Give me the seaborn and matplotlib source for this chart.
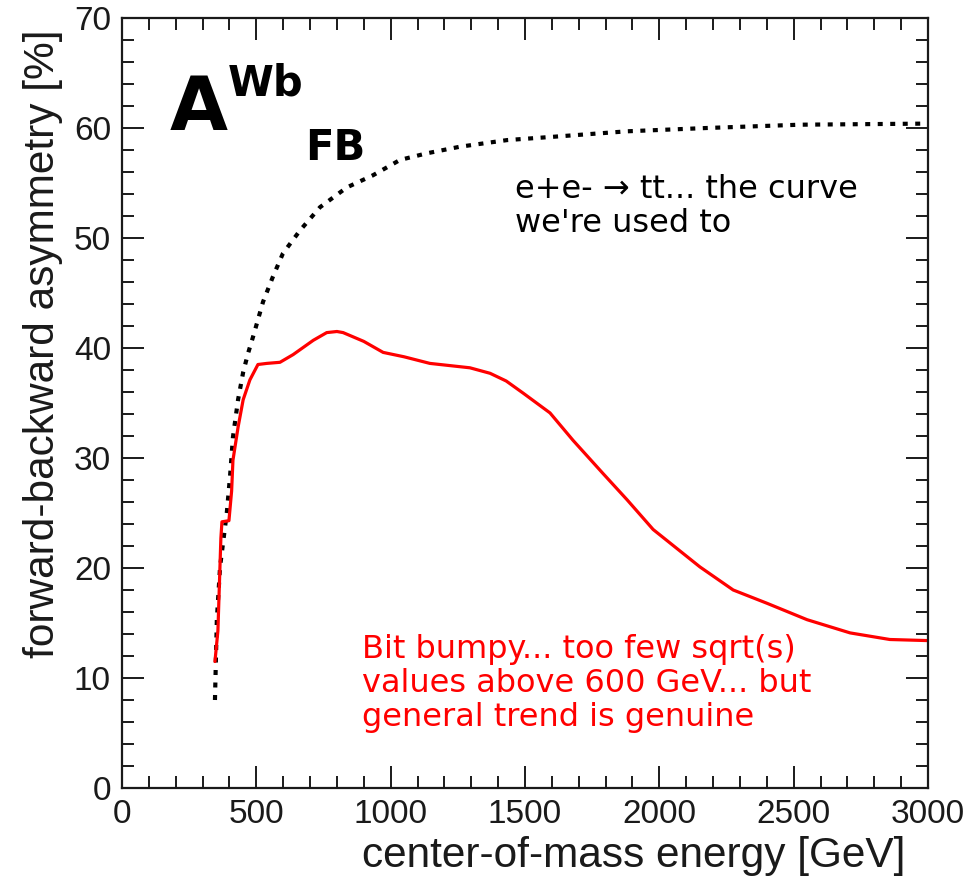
import matplotlib
matplotlib.use("Agg")
import matplotlib.pyplot as plt
from matplotlib.ticker import MultipleLocator
import seaborn as sns
import pandas as pd

# --- data ---
ttbar_E = [346, 353, 365, 390, 402, 413, 432, 451, 469, 490, 525, 562, 599, 663,
           737, 837, 934, 1035, 1135, 1258, 1433, 1604, 1880, 2177, 2523, 3000]
ttbar_A = [8.0, 15.3, 20.1, 25.0, 28.3, 31.9, 35.3, 37.8, 39.5, 41.2, 44.2, 46.5,
           48.6, 50.7, 52.8, 54.6, 55.7, 57.1, 57.7, 58.3, 58.9, 59.2, 59.7, 60.0,
           60.3, 60.4]

wb_E = [346, 357, 368, 372, 398, 408, 413, 432, 451, 476, 506, 539, 588, 637, 712,
        762, 800, 823, 900, 972, 1050, 1146, 1295, 1370, 1430, 1493, 1593, 1679,
        1790, 1880, 1977, 2151, 2275, 2400, 2550, 2710, 2858, 3000]
wb_A = [11.5, 14.3, 22.7, 24.2, 24.3, 27.0, 29.8, 32.8, 35.3, 37.1, 38.5, 38.6,
        38.7, 39.4, 40.7, 41.4, 41.5, 41.4, 40.6, 39.6, 39.2, 38.6, 38.2, 37.7,
        37.0, 35.9, 34.1, 31.6, 28.6, 26.2, 23.5, 20.1, 18.0, 16.8, 15.3, 14.1,
        13.5, 13.4]

x_ticks = [0, 500, 1000, 1500, 2000, 2500, 3000]
y_ticks = [0, 10, 20, 30, 40, 50, 60, 70]

ttbar_note = "e+e- \u2192 tt... the curve\nwe're used to"
wb_note = "Bit bumpy... too few sqrt(s)\nvalues above 600 GeV... but\ngeneral trend is genuine"

sns.set_theme(style="ticks")
plt.rcParams['font.family'] = ['Liberation Sans', 'DejaVu Sans']
plt.rcParams['text.color'] = 'black'

df_tt = pd.DataFrame({"E": ttbar_E, "A": ttbar_A})
df_wb = pd.DataFrame({"E": wb_E, "A": wb_A})

fig = plt.figure(figsize=(9.69, 8.88), dpi=100)
ax = fig.add_axes([122/969, 1-788/888, (928-122)/969, (788-18)/888])

sns.lineplot(data=df_tt, x="E", y="A", ax=ax, color="black", linewidth=3.0,
             sort=False, estimator=None)
ax.lines[-1].set_dashes([1.2, 1.8])
sns.lineplot(data=df_wb, x="E", y="A", ax=ax, color="red", linewidth=2.3,
             sort=False, estimator=None)

ax.set_xlim(0, 3000)
ax.set_ylim(0, 70)
ax.xaxis.set_minor_locator(MultipleLocator(100))
ax.yaxis.set_minor_locator(MultipleLocator(2))
ax.set_xticks(x_ticks)
ax.set_yticks(y_ticks)
ax.tick_params(which="both", direction="in", top=True, right=True, width=1.4,
               colors="#1a1a1a", labelcolor="#1a1a1a", labelsize=24)
ax.tick_params(which="major", length=16, pad=8)
ax.tick_params(which="minor", length=8.5)
for s in ax.spines.values():
    s.set_linewidth(1.6)
    s.set_color("#1a1a1a")

ax.set_xlabel("center-of-mass energy [GeV]", fontsize=30.5, color="#1a1a1a",
              loc="right")
ax.set_ylabel("forward-backward asymmetry [%]", fontsize=30.5, color="#1a1a1a",
              loc="top")
ax.xaxis.set_label_coords((905 - 122) / 806, -(836 - 788) / 770)
ax.yaxis.set_label_coords((63 - 122) / 806, (788 - 30) / 770)

dj = ['DejaVu Sans']
ax.text(179, 59.8, "A", fontsize=54, fontweight="bold", family=dj,
        va="baseline", ha="left", color="black")
ax.text(395, 63.0, "Wb", fontsize=30, fontweight="bold", family=dj,
        va="baseline", ha="left", color="black")
ax.text(681, 57.1, "FB", fontsize=30, fontweight="bold", family=dj,
        va="baseline", ha="left", color="black")
ax.text(1463, 55.8, ttbar_note, fontsize=23, family=dj, va="top", ha="left",
        color="black", linespacing=1.12)
ax.text(893, 14.0, wb_note, fontsize=23, family=dj, va="top", ha="left",
        color="red", linespacing=1.12)

fig.savefig("out.png", dpi=100)
